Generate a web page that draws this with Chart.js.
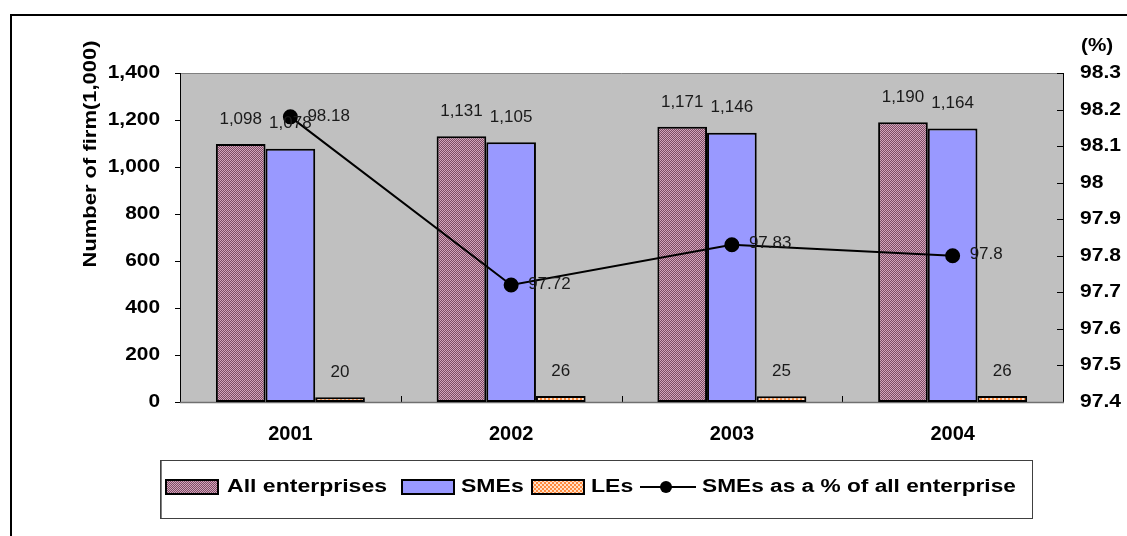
<!DOCTYPE html>
<html>
<head>
<meta charset="utf-8">
<script src="https://cdn.jsdelivr.net/npm/chart.js@4/dist/chart.umd.min.js"></script>
<style>
  html, body { margin: 0; padding: 0; background: #fff; }
  #wrap { width: 1127px; height: 536px; position: relative; }
</style>
</head>
<body>
<div id="wrap"><canvas id="chart" width="1127" height="536"></canvas></div>
<script>
const years = ['2001', '2002', '2003', '2004'];
const allEnterprises = [1098, 1131, 1171, 1190];
const smes = [1078, 1105, 1146, 1164];
const les = [20, 26, 25, 26];
const smeShare = [98.18, 97.72, 97.83, 97.8];
const leftTicks = [0, 200, 400, 600, 800, 1000, 1200, 1400];
const rightTicks = ['97.4', '97.5', '97.6', '97.7', '97.8', '97.9', '98', '98.1', '98.2', '98.3'];

const FONT = "'Liberation Sans', Arial, sans-serif";

// little fill patterns like the office chart
function hatchPattern() {
    const c = document.createElement('canvas');
    c.width = 4; c.height = 4;
    const g = c.getContext('2d');
    g.fillStyle = '#d4a4bc';
    g.fillRect(0, 0, 4, 4);
    g.fillStyle = '#7d4d64';
    for (let i = 0; i < 4; i++) g.fillRect(i, 3 - i, 1, 1);
    for (let i = 0; i < 4; i++) g.fillRect((i + 2) % 4, 3 - i, 1, 1);
    return c;
}
function checkPattern() {
    const c = document.createElement('canvas');
    c.width = 4; c.height = 4;
    const g = c.getContext('2d');
    g.fillStyle = '#ff8a3c';
    g.fillRect(0, 0, 4, 4);
    g.fillStyle = '#ffe0c8';
    g.fillRect(0, 0, 2, 2);
    g.fillRect(2, 2, 2, 2);
    return c;
}

const ctx = document.getElementById('chart').getContext('2d');
const hatch = ctx.createPattern(hatchPattern(), 'repeat');
const check = ctx.createPattern(checkPattern(), 'repeat');

const fmt = v => v.toLocaleString('en-US');

// the original font is a bit wider than Liberation, so stretch it
function wideText(c, text, x, y, align, font, sx) {
    c.save();
    c.font = font;
    c.textAlign = align;
    c.textBaseline = 'middle';
    c.translate(x, y);
    c.scale(sx, 1);
    c.fillText(text, 0, 0);
    c.restore();
}

const decor = {
    id: 'decor',
    beforeDraw(chart) {
        const c = chart.ctx;
        c.save();
        c.strokeStyle = '#000';
        c.lineWidth = 2;
        c.beginPath();
        c.moveTo(11, 536);
        c.lineTo(11, 15);
        c.lineTo(1127, 15);
        c.stroke();
        c.restore();
    },
    beforeDatasetsDraw(chart) {
        const c = chart.ctx, a = chart.chartArea;
        const y = chart.scales.y, y1 = chart.scales.y1, x = chart.scales.x;
        c.save();
        c.fillStyle = '#c0c0c0';
        c.fillRect(a.left, a.top, a.right - a.left, a.bottom - a.top);
        c.strokeStyle = '#808080';
        c.lineWidth = 1;
        c.beginPath();
        c.moveTo(a.left, a.top + 0.5);
        c.lineTo(a.right, a.top + 0.5);
        c.stroke();

        c.strokeStyle = '#000';
        c.beginPath();
        // left axis with outward ticks
        c.moveTo(a.left + 0.5, a.top);
        c.lineTo(a.left + 0.5, a.bottom);
        leftTicks.forEach(v => {
            const py = Math.round(y.getPixelForValue(v)) + 0.5;
            c.moveTo(a.left - 5, py);
            c.lineTo(a.left, py);
        });
        // right axis with inward ticks
        c.moveTo(a.right + 0.5, a.top);
        c.lineTo(a.right + 0.5, a.bottom);
        rightTicks.forEach(v => {
            const py = Math.round(y1.getPixelForValue(Number(v))) + 0.5;
            c.moveTo(a.right - 6, py);
            c.lineTo(a.right, py);
        });
        // category separators on x axis
        for (let i = 1; i < years.length; i++) {
            const px = Math.round((x.getPixelForValue(i - 1) + x.getPixelForValue(i)) / 2) + 0.5;
            c.moveTo(px, a.bottom);
            c.lineTo(px, a.bottom - 6);
        }
        c.stroke();
        c.strokeStyle = '#707070';
        c.lineWidth = 1.5;
        c.beginPath();
        c.moveTo(a.left, a.bottom + 0.5);
        c.lineTo(a.right + 1, a.bottom + 0.5);
        c.stroke();
        c.restore();

        // tick labels
        c.save();
        c.fillStyle = '#000';
        leftTicks.forEach(v => {
            wideText(c, fmt(v), 160, y.getPixelForValue(v), 'right', 'bold 18px ' + FONT, 1.16);
        });
        rightTicks.forEach(v => {
            wideText(c, v, 1080, y1.getPixelForValue(Number(v)), 'left', 'bold 18px ' + FONT, 1.17);
        });
        years.forEach((t, i) => {
            wideText(c, t, x.getPixelForValue(i), 434, 'center', 'bold 20px ' + FONT, 1);
        });
        c.restore();
    },
    afterDatasetsDraw(chart) {
        const c = chart.ctx;
        c.save();
        c.font = '17px ' + FONT;
        c.fillStyle = '#1a1a1a';
        c.textBaseline = 'middle';
        c.textAlign = 'center';
        [0, 1, 2].forEach(di => {
            const meta = chart.getDatasetMeta(di);
            meta.data.forEach((bar, i) => {
                c.fillText(fmt(chart.data.datasets[di].data[i]), bar.x, bar.y - 25);
            });
        });
        c.textAlign = 'left';
        const lm = chart.getDatasetMeta(3);
        lm.data.forEach((pt, i) => {
            c.fillText(String(smeShare[i]), pt.x + 17, pt.y - 1);
        });
        c.restore();
    },
    afterDraw(chart) {
        const c = chart.ctx;
        c.save();
        c.fillStyle = '#000';
        // axis titles
        c.save();
        c.font = 'bold 18px ' + FONT;
        c.textAlign = 'center';
        c.textBaseline = 'middle';
        c.translate(91, 154);
        c.rotate(-Math.PI / 2);
        c.scale(1.22, 1);
        c.fillText('Number of firm(1,000)', 0, 0);
        c.restore();
        wideText(c, '(%)', 1081, 46, 'left', 'bold 18px ' + FONT, 1.15);

        // legend box
        c.strokeStyle = '#404040';
        c.lineWidth = 1;
        c.strokeRect(160.5, 460.5, 872, 58);
        c.strokeStyle = '#808080';
        c.beginPath();
        c.moveTo(161.5, 461);
        c.lineTo(161.5, 518);
        c.stroke();
        const ly = 487;
        c.lineWidth = 2;
        c.strokeStyle = '#000';
        const swatch = (x, fill) => {
            c.fillStyle = fill;
            c.fillRect(x, ly - 7, 52, 14);
            c.strokeRect(x, ly - 7, 52, 14);
        };
        swatch(166, hatch);
        swatch(402, '#9999ff');
        swatch(532, check);
        c.beginPath();
        c.moveTo(640, ly);
        c.lineTo(696, ly);
        c.stroke();
        c.beginPath();
        c.arc(666, ly, 6, 0, Math.PI * 2);
        c.fillStyle = '#000';
        c.fill();
        const lf = 'bold 18px ' + FONT;
        wideText(c, 'All enterprises', 227, ly, 'left', lf, 1.28);
        wideText(c, 'SMEs', 461, ly, 'left', lf, 1.28);
        wideText(c, 'LEs', 591, ly, 'left', lf, 1.28);
        wideText(c, 'SMEs as a % of all enterprise', 702, ly, 'left', lf, 1.26);
        c.restore();
    }
};

new Chart(ctx, {
    type: 'bar',
    data: {
        labels: years,
        datasets: [
            { label: 'All enterprises', data: allEnterprises, backgroundColor: hatch, borderColor: '#000', borderWidth: 2, borderSkipped: false, order: 2 },
            { label: 'SMEs', data: smes, backgroundColor: '#9999ff', borderColor: '#000', borderWidth: 2, borderSkipped: false, order: 2 },
            { label: 'LEs', data: les, backgroundColor: check, borderColor: '#000', borderWidth: 2, borderSkipped: false, order: 2 },
            {
                type: 'line', label: 'SMEs as a % of all enterprise', data: smeShare, yAxisID: 'y1',
                borderColor: '#000', borderWidth: 2, pointRadius: 6.5, pointBackgroundColor: '#000',
                pointBorderColor: '#000', tension: 0, order: 1
            }
        ]
    },
    options: {
        responsive: false,
        animation: false,
        layout: { padding: { top: 73, left: 180, right: 64, bottom: 134 } },
        plugins: { legend: { display: false }, tooltip: { enabled: false } },
        datasets: { bar: { categoryPercentage: 0.675, barPercentage: 1 } },
        scales: {
            x: { display: false },
            y: { display: false, position: 'left', min: 0, max: 1400 },
            y1: { display: false, position: 'right', min: 97.4, max: 98.3 }
        }
    },
    plugins: [decor]
});
</script>
</body>
</html>
